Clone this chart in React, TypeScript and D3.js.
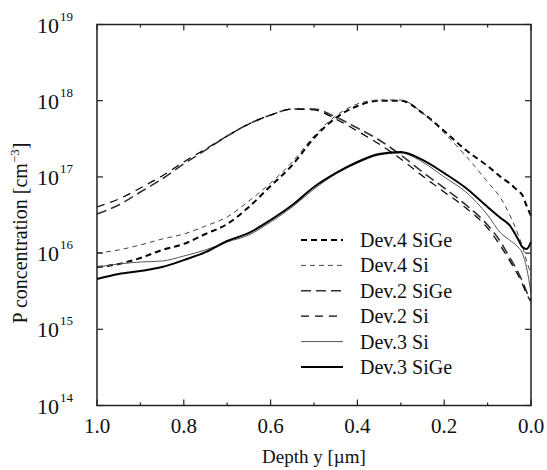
import React from 'react';
import * as d3 from 'd3';

// depth grid (µm) shared by all profiles
const depth = [1.0, 0.95, 0.9, 0.85, 0.8, 0.75, 0.7, 0.65, 0.6, 0.55, 0.5, 0.45, 0.4, 0.35, 0.3, 0.25, 0.2, 0.15, 0.1, 0.07, 0.05, 0.03, 0.02, 0.01, 0.0];

// P concentration (cm^-3)
const dev4SiGe = [6.56e15, 7.19e15, 8.63e15, 1.1e16, 1.32e16, 1.78e16, 2.41e16, 4.03e16, 7.6e16, 1.43e17, 3.24e17, 5.93e17, 8.51e17, 1.0e18, 1.0e18, 6.9e17, 4.0e17, 2.25e17, 1.39e17, 1.0e17, 8.32e16, 6.53e16, 5.78e16, 4.15e16, 3.07e16];
const dev4Si = [1.0e16, 1.1e16, 1.28e16, 1.53e16, 1.78e16, 2.27e16, 2.98e16, 4.83e16, 8.32e16, 1.57e17, 3.44e17, 6.3e17, 9.06e17, 1.02e18, 1.02e18, 6.9e17, 3.77e17, 1.88e17, 8.57e16, 5.28e16, 3.26e16, 1.78e16, 1.24e16, 7.87e15, 5.32e15];
const dev2SiGe = [3.26e16, 4.28e16, 6.34e16, 9.4e16, 1.48e17, 2.25e17, 3.44e17, 4.95e17, 6.49e17, 7.78e17, 7.78e17, 6.11e17, 4.38e17, 3.05e17, 1.94e17, 1.16e17, 7.15e16, 4.28e16, 2.34e16, 1.4e16, 8.9e15, 5.65e15, 4.3e15, 3.09e15, 2.43e15];
const dev2Si = [4.03e16, 5.13e16, 7.15e16, 1.03e17, 1.57e17, 2.32e17, 3.44e17, 4.95e17, 6.49e17, 7.78e17, 7.55e17, 5.75e17, 4.0e17, 2.7e17, 1.72e17, 1.03e17, 6.34e16, 3.91e16, 2.13e16, 1.24e16, 8.1e15, 5.16e15, 3.93e15, 2.9e15, 2.28e15];
const dev3Si = [6.56e15, 7.19e15, 7.64e15, 7.87e15, 9.16e15, 1.1e16, 1.4e16, 1.73e16, 2.56e16, 4.03e16, 6.93e16, 1.09e17, 1.52e17, 1.94e17, 2.06e17, 1.57e17, 9.97e16, 6.34e16, 3.16e16, 1.84e16, 1.49e16, 1.2e16, 1.0e16, 6.37e15, 2.99e15];
const dev3SiGe = [4.57e15, 5.32e15, 5.82e15, 6.56e15, 8.1e15, 1.03e16, 1.44e16, 1.84e16, 2.72e16, 4.28e16, 7.37e16, 1.12e17, 1.57e17, 2.0e17, 2.12e17, 1.67e17, 1.12e17, 7.15e16, 4.03e16, 2.89e16, 2.34e16, 1.53e16, 1.2e16, 1.13e16, 1.4e16];

const xTicks = [1.0, 0.8, 0.6, 0.4, 0.2, 0.0];
const xMinorTicks = [0.9, 0.7, 0.5, 0.3, 0.1];
const yExponents = [14, 15, 16, 17, 18, 19];

const series = [
  { name: 'Dev.4 SiGe', values: dev4SiGe, color: '#000', width: 2, dash: '6,4' },
  { name: 'Dev.4 Si', values: dev4Si, color: '#444', width: 1, dash: '5,4' },
  { name: 'Dev.2 SiGe', values: dev2SiGe, color: '#333', width: 1.6, dash: '10,5' },
  { name: 'Dev.2 Si', values: dev2Si, color: '#000', width: 1.2, dash: '8,6' },
  { name: 'Dev.3 Si', values: dev3Si, color: '#555', width: 1, dash: '' },
  { name: 'Dev.3 SiGe', values: dev3SiGe, color: '#000', width: 2, dash: '' },
];

const W = 547;
const H = 470;
const left = 97, right = 531, top = 24.5, bottom = 405.5;
const font = 'Liberation Serif';

export default function App() {
  const x = d3.scaleLinear().domain([1, 0]).range([left, right]);
  const y = d3.scaleLog().domain([1e14, 1e19]).range([bottom, top]);

  const line = d3.line<number>()
    .x((_, i) => x(depth[i]))
    .y(d => y(d))
    .curve(d3.curveMonotoneX);

  const txt = { fontFamily: font, fill: '#111' };

  return (
    <svg width={W} height={H} style={{ position: 'absolute', left: 0, top: 0, background: '#fff' }}>
      {/* curves */}
      <g fill="none">
        {series.map(s => (
          <path key={s.name} d={line(s.values) || ''} stroke={s.color} strokeWidth={s.width}
            strokeDasharray={s.dash || undefined} />
        ))}
      </g>

      {/* frame */}
      <rect x={left} y={top} width={right - left} height={bottom - top} fill="none" stroke="#222" strokeWidth={1.5} />

      {/* x ticks */}
      {xTicks.map(t => (
        <g key={'x' + t}>
          <line x1={x(t)} x2={x(t)} y1={bottom} y2={bottom - 6} stroke="#222" strokeWidth={1.2} />
          <line x1={x(t)} x2={x(t)} y1={top} y2={top + 6} stroke="#222" strokeWidth={1.2} />
          <text x={x(t)} y={433} fontSize={21} textAnchor="middle" style={txt}>{t.toFixed(1)}</text>
        </g>
      ))}
      {xMinorTicks.map(t => (
        <g key={'xm' + t}>
          <line x1={x(t)} x2={x(t)} y1={bottom} y2={bottom - 3} stroke="#222" strokeWidth={1.2} />
          <line x1={x(t)} x2={x(t)} y1={top} y2={top + 3} stroke="#222" strokeWidth={1.2} />
        </g>
      ))}

      {/* y ticks */}
      {yExponents.map(e => {
        const yy = y(Math.pow(10, e));
        return (
          <g key={'y' + e}>
            <line x1={left} x2={left + 6} y1={yy} y2={yy} stroke="#222" strokeWidth={1.2} />
            <line x1={right} x2={right - 6} y1={yy} y2={yy} stroke="#222" strokeWidth={1.2} />
            <text x={59} y={yy + 8} fontSize={22} textAnchor="end" style={txt}>10</text>
            <text x={60} y={yy - 4} fontSize={13} style={txt}>{e}</text>
          </g>
        );
      })}

      {/* axis titles */}
      <text x={(left + right) / 2} y={463} fontSize={19} textAnchor="middle" style={txt}>Depth y [µm]</text>
      <text transform="translate(27,233) rotate(-90)" fontSize={20} textAnchor="middle" style={txt}>
        P concentration [cm<tspan dy={-8} fontSize={13}>−3</tspan><tspan dy={8}>]</tspan>
      </text>

      {/* legend */}
      {series.map((s, i) => {
        const ly = 240 + i * 25.4;
        return (
          <g key={'l' + s.name}>
            <line x1={301} x2={343} y1={ly} y2={ly} stroke={s.color} strokeWidth={s.width}
              strokeDasharray={s.dash || undefined} />
            <text x={360} y={ly + 7} fontSize={20} style={txt}>{s.name}</text>
          </g>
        );
      })}
    </svg>
  );
}
